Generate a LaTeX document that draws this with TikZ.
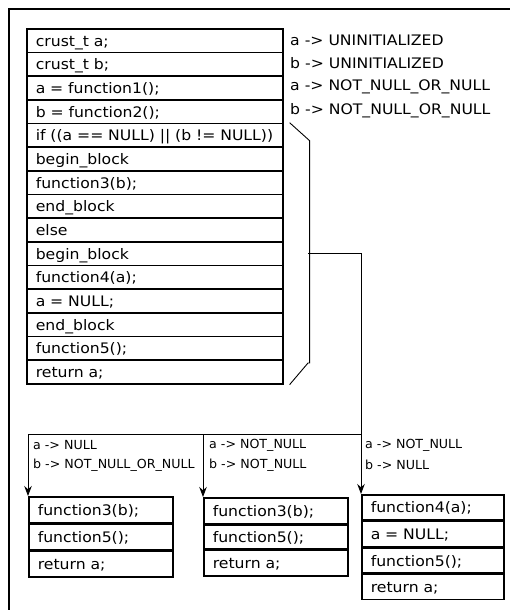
\documentclass[tikz,border=0pt]{standalone}
\usepackage{fontspec}
\setmainfont{DejaVu Sans}
\newfontfamily\widefont{DejaVu Sans}[FakeStretch=1.08]
\newfontfamily\labfont{DejaVu Sans}[FakeStretch=1.01]
\usetikzlibrary{arrows.meta}
\begin{document}
\begin{tikzpicture}[x=1pt,y=-1pt,
  frame/.style={line width=1.8pt},
  row/.style={draw,line width=1.6pt,rectangle,minimum height=#1,inner xsep=9pt,inner ysep=0pt,anchor=north west,font=\widefont\fontsize{14.5}{16}\selectfont,text depth=0pt},
  mainrow/.style={row=23.67pt,minimum width=256pt,text width=238pt,align=left},
  b1row/.style={row=25.67pt,minimum width=144pt,text width=126pt,align=left},
  b3row/.style={row=25pt,minimum width=142pt,text width=124pt,align=left},
  note/.style={anchor=west,inner sep=0pt,font=\widefont\fontsize{14.5}{16}\selectfont},
  lab/.style={anchor=west,inner sep=0pt,font=\labfont\fontsize{12.5}{14}\selectfont},
  conn/.style={line width=0.9pt},
  arr/.style={conn,-{Stealth[length=10pt,width=7.5pt]}}
]
\useasboundingbox (0,0) rectangle (510,610);
\clip (0,0) rectangle (510,610);
\draw[frame] (9,9) rectangle (520,620);
% main table
\def\rh{23.67}
\foreach \t [count=\i] in {crust\_t a;,crust\_t b;,a = function1();,b = function2();,if ((a == NULL) || (b != NULL)),begin\_block,function3(b);,end\_block,else,begin\_block,function4(a);,a = NULL;,end\_block,function5();,return a;}{
  \node[mainrow] (m\i) at (26,{28+(\i-1)*\rh}) {\strut\t};
}
% annotations
\node[note] (n1) at (290,{28+0.5*\rh}) {a -> UNINITIALIZED};
\node[note] (n2) at (290,{28+1.5*\rh}) {b -> UNINITIALIZED};
\node[note] (n3) at (290,{28+2.5*\rh}) {a -> NOT\_NULL\_OR\_NULL};
\node[note] (n4) at (290,{28+3.5*\rh}) {b -> NOT\_NULL\_OR\_NULL};
% bracket
\coordinate (bt) at ([xshift=6pt]m5.north east);
\coordinate (bb) at ([xshift=6pt]m15.south east);
\coordinate (bm) at (308,253);
\coordinate (jn) at (361,434);
\draw[conn] (bt) -- ++(20,18) |- (308,363) -- (bb);
% result boxes
\node[b1row] (a1) at (28,496) {\strut function3(b);};
\node[b1row] (a2) at (a1.south west) {\strut function5();};
\node[b1row] (a3) at (a2.south west) {\strut return a;};
\node[b1row] (c1) at (203,497) {\strut function3(b);};
\node[b1row,minimum height=23.5pt] (c2) at (c1.south west) {\strut function5();};
\node[b1row] (c3) at (c2.south west) {\strut return a;};
\node[b3row] (d1) at (361,494) {\strut function4(a);};
\node[b3row] (d2) at (d1.south west) {\strut a = NULL;};
\node[b3row] (d3) at (d2.south west) {\strut function5();};
\node[b3row] (d4) at (d3.south west) {\strut return a;};
% connectors
\coordinate (s1) at (a1.north west |- jn);
\coordinate (s2) at (c1.north west |- jn);
\draw[conn] (bm) -| (jn);
\draw[conn] (s1) -- (jn);
\draw[arr] (s1) -- (a1.north west);
\draw[arr] (s2) -- (c1.north west);
\draw[arr] (jn) -- (d1.north west);
% labels
\node[lab] (l1) at (33,445) {a -> NULL};
\node[lab] (l2) at (33,465) {b -> NOT\_NULL\_OR\_NULL};
\node[lab] (l3) at (209,445) {a -> NOT\_NULL};
\node[lab] (l4) at (209,465) {b -> NOT\_NULL};
\node[lab] (l5) at (365,445) {a -> NOT\_NULL};
\node[lab] (l6) at (365,465) {b -> NULL};
\end{tikzpicture}
\end{document}
